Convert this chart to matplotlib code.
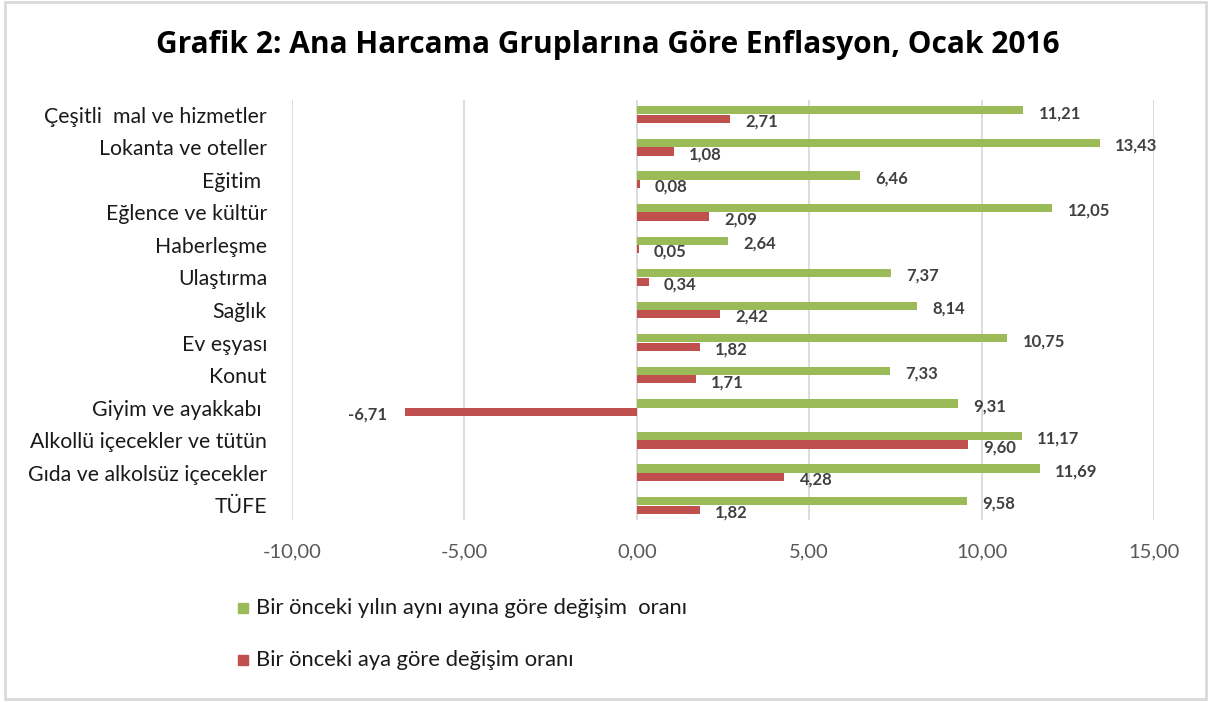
import matplotlib.pyplot as plt
from matplotlib.patches import Rectangle
import numpy as np

plt.rcParams["font.family"] = ["Lato", "DejaVu Sans"]

# bottom to top
categories = [
    "TÜFE",
    "Gıda ve alkolsüz içecekler",
    "Alkollü içecekler ve tütün",
    "Giyim ve ayakkabı ",
    "Konut",
    "Ev eşyası",
    "Sağlık",
    "Ulaştırma",
    "Haberleşme",
    "Eğlence ve kültür",
    "Eğitim ",
    "Lokanta ve oteller",
    "Çeşitli  mal ve hizmetler",
]
yearly = [9.58, 11.69, 11.17, 9.31, 7.33, 10.75, 8.14, 7.37, 2.64, 12.05, 6.46, 13.43, 11.21]
monthly = [1.82, 4.28, 9.60, -6.71, 1.71, 1.82, 2.42, 0.34, 0.05, 2.09, 0.08, 1.08, 2.71]
xticks = [-10, -5, 0, 5, 10, 15]

label_yearly = "Bir önceki yılın aynı ayına göre değişim  oranı"
label_monthly = "Bir önceki aya göre değişim oranı"
GREEN = "#9BBB59"
RED = "#C0504D"


def fmt(v):
    return f"{v:.2f}".replace(".", ",")


fig = plt.figure(figsize=(12.08, 7.02), dpi=100)
ax = fig.add_axes([292 / 1208, 1 - 520 / 702, (1154 - 292) / 1208, 420 / 702])

y = np.arange(len(categories))
h = 0.25
off = 0.13
ax.barh(y + off, yearly, height=h, color=GREEN, zorder=3)
ax.barh(y - off, monthly, height=h, color=RED, zorder=3)

lab = dict(va="center", fontsize=12, fontweight="bold", color="#404040",
           textcoords="offset points")
for yi, v in zip(y, yearly):
    ax.annotate(fmt(v), (v, yi + off), xytext=(11, -2), ha="left", **lab)
for yi, v in zip(y, monthly):
    if v >= 0:
        ax.annotate(fmt(v), (v, yi - off), xytext=(11, -2), ha="left", **lab)
    else:
        ax.annotate(fmt(v), (v, yi - off), xytext=(-13, -2), ha="right", **lab)

ax.set_xlim(-10, 15)
ax.set_ylim(-0.45, 12.45)
ax.set_xticks(xticks)
ax.set_xticklabels([fmt(t) for t in xticks], fontsize=14.5, color="#595959")
ax.set_yticks(y)
ax.set_yticklabels(categories, fontsize=15.3, color="#1a1a1a")
ax.tick_params(axis="both", length=0)
ax.tick_params(axis="x", pad=17)
ax.tick_params(axis="y", pad=18)
ax.grid(axis="x", color="#d9d9d9", linewidth=1.3, zorder=0)
for s in ax.spines.values():
    s.set_visible(False)

# legend, manually placed like Excel
fig.patches.append(Rectangle((238 / 1208, 1 - 613 / 702), 10 / 1208, 10 / 702,
                             transform=fig.transFigure, color=GREEN))
fig.text(256 / 1208, 1 - 608 / 702, label_yearly, fontsize=15.8, va="center", color="#1a1a1a")
fig.patches.append(Rectangle((238 / 1208, 1 - 665 / 702), 10 / 1208, 10 / 702,
                             transform=fig.transFigure, color=RED))
fig.text(256 / 1208, 1 - 660 / 702, label_monthly, fontsize=15.8, va="center", color="#1a1a1a")

fig.text(608 / 1208, 1 - 45 / 702, "Grafik 2: Ana Harcama Gruplarına Göre Enflasyon, Ocak 2016",
         ha="center", va="center", fontsize=21.5, fontweight="bold", family=["Open Sans", "DejaVu Sans"])

# outer frame
fig.patches.append(Rectangle((5 / 1208, 1 - 699 / 702), 1201 / 1208, 697 / 702,
                             transform=fig.transFigure, fill=False, edgecolor="#d9d9d9", linewidth=2))

fig.savefig("out.png", dpi=100)
